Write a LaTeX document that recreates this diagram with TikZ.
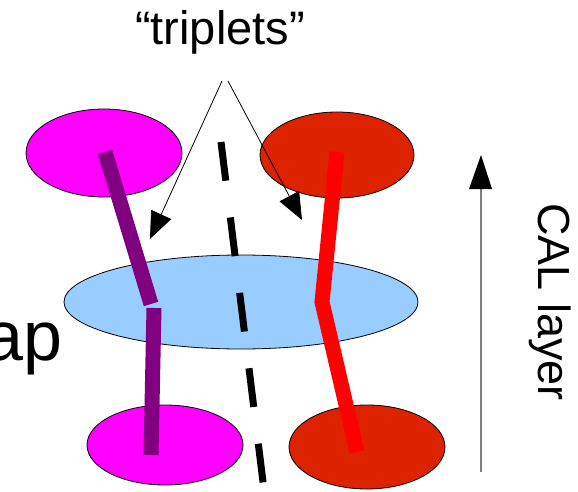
\documentclass[tikz,border=0pt]{standalone}
\usepackage{fontspec}
\setmainfont{Liberation Sans}
\usetikzlibrary{arrows.meta,shapes.geometric}
\definecolor{magentaE}{HTML}{FF00FF}
\definecolor{redE}{HTML}{DD2200}
\definecolor{blueE}{HTML}{99CCFF}
\definecolor{purpleL}{HTML}{800080}
\definecolor{redL}{HTML}{FF0000}
\definecolor{grayL}{HTML}{808080}
\tikzset{
  blob/.style={ellipse, draw=black, line width=0.8pt, inner sep=0pt},
  track/.style={line width=15pt, line cap=butt, line join=miter},
  pointer/.style={line width=0.8pt, -{Triangle[length=27pt,width=22pt]}},
  bigtext/.style={inner sep=0pt, font=\fontsize{47}{50}\selectfont}
}
\begin{document}
\begin{tikzpicture}[x=1pt,y=-1pt]
\useasboundingbox (0,0) rectangle (578,492);
% ellipses
\node[blob, fill=magentaE, minimum width=156pt, minimum height=88pt] (tl) at (104,153) {};
\node[blob, fill=redE, minimum width=154pt, minimum height=86pt] (tr) at (337,155) {};
\node[blob, fill=blueE, minimum width=354pt, minimum height=94pt] (mid) at (241,302) {};
\node[blob, fill=magentaE, minimum width=156pt, minimum height=80pt] (bl) at (165,445) {};
\node[blob, fill=redE, minimum width=156pt, minimum height=84pt] (br) at (367,447) {};
% coordinates
\coordinate (pA) at (105,152);
\coordinate (pB) at (151,304);
\coordinate (pC) at (154,308);
\coordinate (pD) at (151,455);
\coordinate (rA) at (337,152);
\coordinate (rB) at (322,302);
\coordinate (rC) at (357,452);
\coordinate (dA) at (221,142);
\coordinate (dB) at (264,490);
% tracks
\draw[track, purpleL] (pA) -- (pB);
\draw[track, purpleL] (pC) -- (pD);
\draw[track, redL] (rA) -- (rB) -- (rC);
\draw[line width=7pt, dash pattern=on 39pt off 37pt] (dA) -- (dB);
% triplets label and arrows
\node[bigtext, anchor=base] (trip) at (220,45) {“triplets”};
\coordinate (tL) at (222,81);
\coordinate (tR) at (228,81);
\coordinate (hL) at (150,239);
\coordinate (hR) at (302,220);
\draw[pointer] (tL) -- (hL);
\draw[pointer] (tR) -- (hR);
% ap
\node[inner sep=0pt, font=\fontsize{70}{74}\selectfont, anchor=base east] (ap) at (63,360) {ap};
% CAL layer axis
\coordinate (vB) at (481,472);
\coordinate (vT) at (481,155);
\draw[grayL, line width=1.2pt] (vB) -- (481,185);
\fill (vT) -- (492,189) -- (469,189) -- cycle;
\node[inner sep=0pt, rotate=-90, anchor=base, font=\fontsize{45}{48}\selectfont] (cal) at (538,302) {CAL layer};
\end{tikzpicture}
\end{document}
